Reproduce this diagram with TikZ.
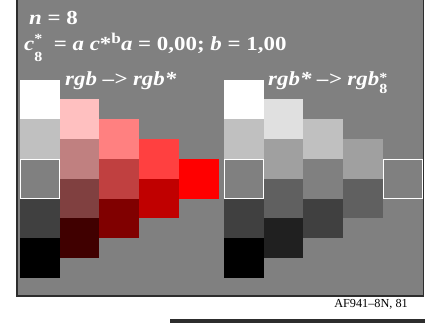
\documentclass[tikz,border=0pt]{standalone}
\usepackage{fontspec}
\usepackage{graphicx}
\setmainfont{Liberation Serif}
\definecolor{panelgray}{RGB}{128,128,128}
\definecolor{framegray}{RGB}{45,45,45}
% stacked star and index: #1 star, #2 index, #3 raise, #4 drop
\newcommand\supsub[4]{\makebox[0pt][l]{\raisebox{#3}{\fontsize{14}{14}\selectfont #1}}\raisebox{-#4}{\fontsize{14}{14}\selectfont #2}}
\newcommand\supr[1]{\raisebox{7bp}{\fontsize{15}{15}\selectfont #1}}
\newcommand\wide[1]{\scalebox{1.15}[1]{#1}}
\begin{document}
\begin{tikzpicture}[x=1bp, y=-1bp,
	lbl/.style = {anchor=base west, inner sep=0pt, text=white, font=\fontsize{20}{20}\selectfont\bfseries},
	cellframe/.style = {draw=white, line width=1bp}]
	\useasboundingbox (0,0) rectangle (425,323);
	\clip (0,0) rectangle (425,323);
	\draw [framegray, line width=1.8bp, fill=panelgray] (17,-5) rectangle (423.5,296);
	% left half: rgb -> rgb*
	\foreach \c/\r/\R/\G in {0/0/255/255, 0/1/192/192, 0/2/128/128, 0/3/64/64, 0/4/0/0,
		1/0/255/192, 1/1/192/128, 1/2/128/64, 1/3/64/0,
		2/0/255/128, 2/1/192/64, 2/2/128/0,
		3/0/255/64, 3/1/192/0,
		4/0/255/0} {
		\definecolor{cell}{RGB}{\R,\G,\G}
		\fill [cell] ({20+39.7*\c},{79.5+39.7*\r+19.85*\c}) rectangle ++(39.7,39.7);
	}
	% right half: rgb* -> rgb*_8
	\foreach \c/\r/\V in {0/0/255, 0/1/192, 0/2/128, 0/3/64, 0/4/0,
		1/0/224, 1/1/160, 1/2/96, 1/3/32,
		2/0/192, 2/1/128, 2/2/64,
		3/0/160, 3/1/96,
		4/0/128} {
		\definecolor{cell}{RGB}{\V,\V,\V}
		\fill [cell] ({224+39.7*\c},{79.5+39.7*\r+19.85*\c}) rectangle ++(39.7,39.7);
	}
	\draw [cellframe] (20.5,159.4) rectangle ++(38.7,38.7);
	\draw [cellframe] (224.5,159.4) rectangle ++(38.7,38.7);
	\draw [cellframe] (383.3,159.4) rectangle ++(38.7,38.7);
	\node [lbl] (nval) at (29,24) {\wide{\textit{n} = 8}};
	\node [lbl] (cdef) at (24,50) {\wide{\textit{c}\supsub{*}{8}{6.5bp}{11bp}\ \ = \textit{a c}*\supr{b}\textit{a} = 0,00; \textit{b} = 1,00}};
	\node [lbl] (lhead) at (65,85) {\wide{\textit{rgb –> rgb*}}};
	\node [lbl] (rhead) at (268,85) {\wide{\textit{rgb* –> rgb}\supsub{*}{8}{2.5bp}{8bp}}};
	%\node [lbl] at (212,300) {};
	\node [anchor=base east, inner sep=0pt, font=\fontsize{12.3}{12.3}\selectfont] (code) at (408,307) {AF941–8N, 81};
	\fill [framegray] (170,319) rectangle (425,326);
\end{tikzpicture}
\end{document}
